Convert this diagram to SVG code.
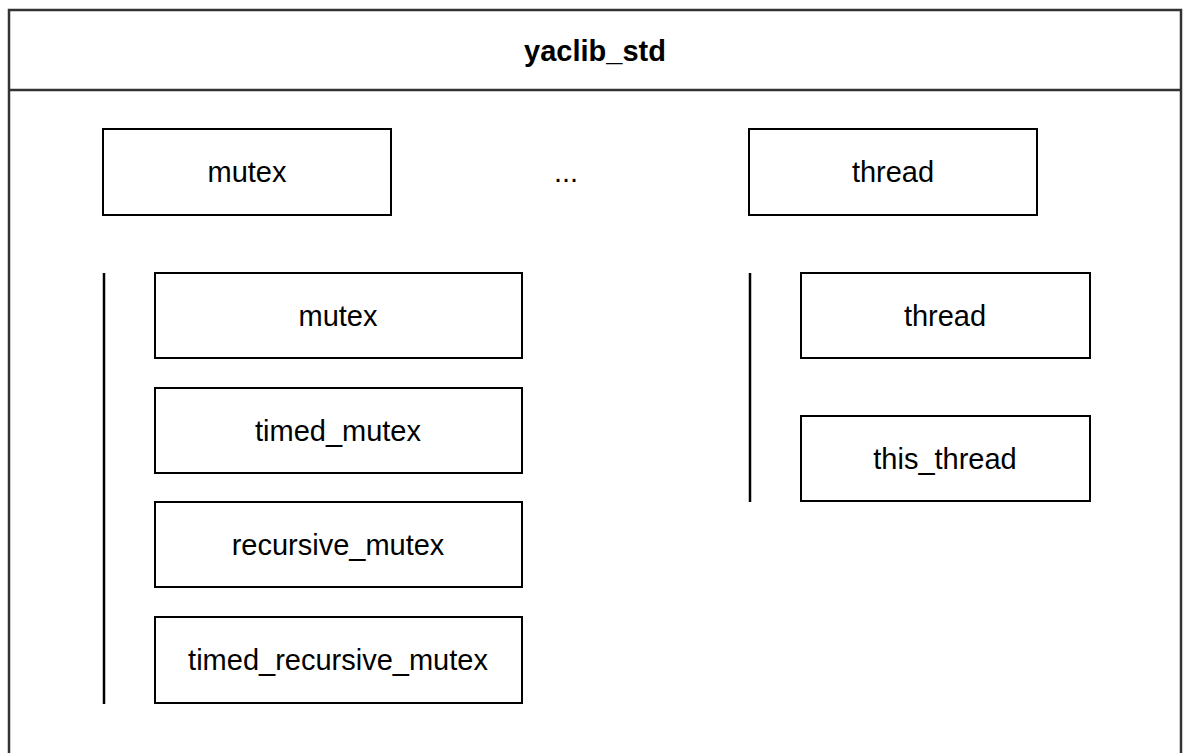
<svg xmlns="http://www.w3.org/2000/svg" width="1183" height="753" viewBox="0 0 1183 753">
<style>
.box{fill:#fff;stroke:#000;stroke-width:2}
.frame{fill:#fff;stroke:#333;stroke-width:2.5}
.lbl{font-family:"Liberation Sans",Arial,sans-serif;font-size:29px;fill:#000;text-anchor:middle;dominant-baseline:central}
.ttl{font-weight:bold}
.bar{stroke:#000;stroke-width:2.5;fill:none}
</style>
<rect width="1183" height="753" fill="#fff"/>
<g id="yaclib_std">
<rect class="frame" x="9" y="10" width="1172" height="760"/>
<line class="frame" x1="9" y1="90" x2="1181" y2="90"/>
<text class="lbl ttl" x="595" y="51">yaclib_std</text>
</g>
<g id="mutex_group">
<rect class="box" x="103" y="129" width="288" height="86"/>
<text class="lbl" x="247" y="172">mutex</text>
</g>
<g id="ellipsis">
<text class="lbl" x="566" y="172">...</text>
</g>
<g id="thread_group">
<rect class="box" x="749" y="129" width="288" height="86"/>
<text class="lbl" x="893" y="172">thread</text>
</g>
<g id="connectors">
<line class="bar" x1="104" y1="273" x2="104" y2="704"/>
<line class="bar" x1="750" y1="273" x2="750" y2="502"/>
</g>
<g id="mutex">
<rect class="box" x="155" y="273" width="367" height="85"/>
<text class="lbl" x="338" y="316">mutex</text>
</g>
<g id="timed_mutex">
<rect class="box" x="155" y="388" width="367" height="85"/>
<text class="lbl" x="338" y="431">timed_mutex</text>
</g>
<g id="recursive_mutex">
<rect class="box" x="155" y="502" width="367" height="85"/>
<text class="lbl" x="338" y="545">recursive_mutex</text>
</g>
<g id="timed_recursive_mutex">
<rect class="box" x="155" y="617" width="367" height="86"/>
<text class="lbl" x="338" y="660">timed_recursive_mutex</text>
</g>
<g id="thread">
<rect class="box" x="801" y="273" width="289" height="85"/>
<text class="lbl" x="945" y="316">thread</text>
</g>
<g id="this_thread">
<rect class="box" x="801" y="416" width="289" height="85"/>
<text class="lbl" x="945" y="459">this_thread</text>
</g>
</svg>
